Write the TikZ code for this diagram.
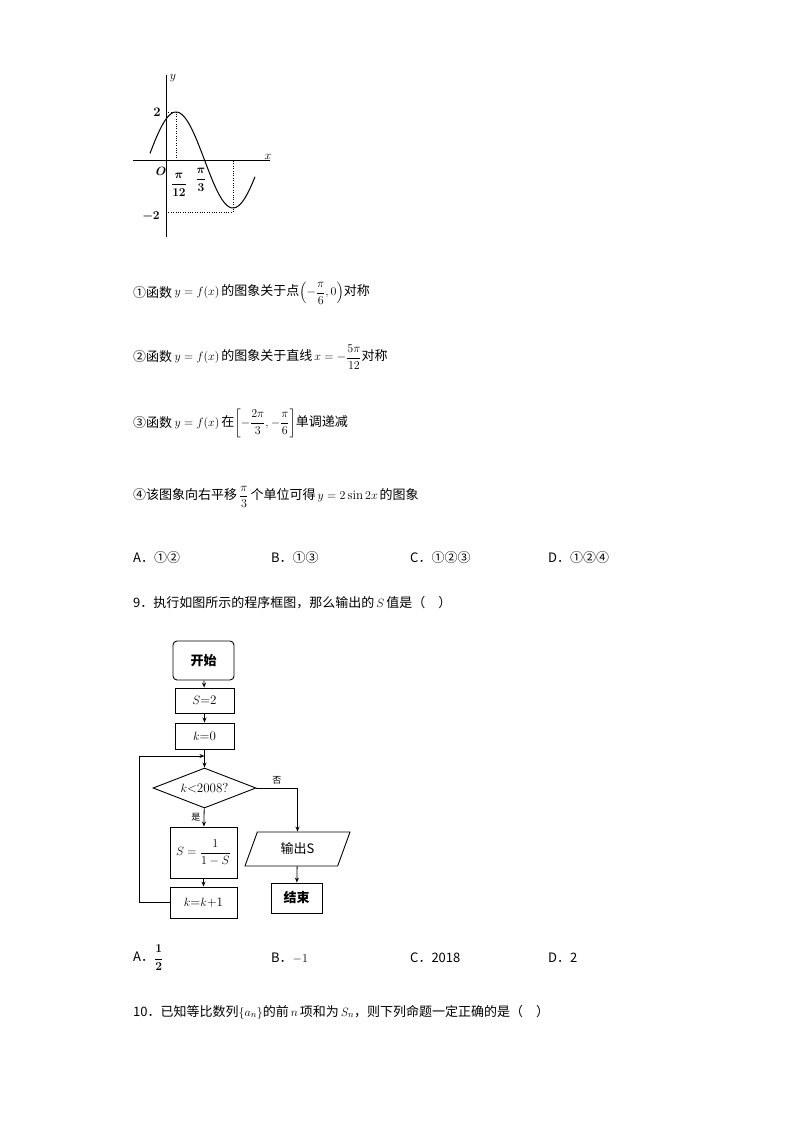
\documentclass[tikz,border=0pt]{standalone}
\usepackage{fontspec}
\usepackage{amsmath}
\newfontfamily\cjk{Noto Sans CJK SC}
\usetikzlibrary{shapes.geometric,arrows.meta}
\begin{document}
\begin{tikzpicture}[x=1pt,y=-1pt,font=\fontsize{13}{15}\selectfont,
 txt/.style={anchor=west,inner sep=0},
 fbox/.style={draw,line width=0.9pt,minimum width=#1,inner sep=0},
 arr/.style={-{Stealth[length=5pt,width=4pt]},line width=0.8pt}]
\useasboundingbox (0,0) rectangle (794,1123);
% graph
\draw[line width=0.7pt] (133,160) -- (270,160);
\draw[line width=0.7pt] (166,237) -- (166,75);
\draw[dotted] (166,112) -- (176,112) -- (176,160);
\draw[dotted] (166,212) -- (233,212) -- (233,160);
\draw[line width=1pt] plot[domain=150:255,samples=80,smooth] (\x,{160-48*cos(deg(2*pi*(\x-176)/114))});
\node at (173,78) {$y$};
\node at (268,157) {$x$};
\node at (157,112) {\bfseries 2};
\node at (161,171) {$\boldsymbol{O}$};
\node at (179,185) {$\boldsymbol{\dfrac{\pi}{12}}$};
\node at (201,180) {$\boldsymbol{\dfrac{\pi}{3}}$};
\node at (151,216) {$\boldsymbol{-2}$};
% statements
\node[txt] (s1) at (133,293) {\cjk ①函数}; \node[txt] at (s1.east) {$\,y=f(x)\,$\cjk 的图象关于点$\left(-\dfrac{\pi}{6},0\right)$\cjk 对称};
\node[txt] (s2) at (133,357) {\cjk ②函数}; \node[txt] at (s2.east) {$\,y=f(x)\,$\cjk 的图象关于直线$\,x=-\dfrac{5\pi}{12}$\cjk 对称};
\node[txt] (s3) at (133,423) {\cjk ③函数}; \node[txt] at (s3.east) {$\,y=f(x)\,$\cjk 在$\left[-\dfrac{2\pi}{3},-\dfrac{\pi}{6}\right]$\cjk 单调递减};
\node[txt] (s4) at (133,497) {\cjk ④该图象向右平移$\,\dfrac{\pi}{3}\,$个单位可得$\,y=2\sin 2x\,$的图象};
\node[txt] at (133,558) {\cjk A．①②};
\node[txt] at (271,558) {\cjk B．①③};
\node[txt] at (410,558) {\cjk C．①②③};
\node[txt] at (548,558) {\cjk D．①②④};
\node[txt] at (133,603) {\cjk 9．执行如图所示的程序框图，那么输出的$\,S\,$值是（\quad ）};
% flowchart
\node[fbox=61pt,minimum height=39pt,rounded corners=4pt] (st) at (203.5,660.5) {\cjk\bfseries 开始};
\node[fbox=59pt,minimum height=25pt] (s2b) at (204.5,700.5) {$S$=2};
\node[fbox=59pt,minimum height=26pt] (k0) at (204.5,736) {$k$=0};
\node[draw,line width=0.9pt,diamond,aspect=2.6,minimum width=103pt,minimum height=40pt,inner sep=0] (d) at (204.5,788) {$k$<2008?};
\node[fbox=67pt,minimum height=51pt] (sb) at (203.5,852.5) {$S=\dfrac{1}{1-S}$};
\node[fbox=67pt,minimum height=31pt] (kk) at (203.5,902.5) {$k$=$k$+1};
\node[draw,line width=0.9pt,trapezium,trapezium left angle=70,trapezium right angle=110,minimum width=90pt,minimum height=34pt,inner sep=2pt] (out) at (297.5,849) {\cjk 输出S};
\node[fbox=51pt,minimum height=30pt] (end) at (296.5,898) {\cjk\bfseries 结束};
\coordinate (lp) at (204.5,756);
\draw[arr] (st) -- (s2b);
\draw[arr] (s2b) -- (k0);
\draw[line width=0.8pt] (k0) -- (lp);
\draw[arr] (lp) -- (d);
\draw[arr] (d) -- (sb) node[pos=0.5,left,font=\cjk\small] {是};
\draw[arr] (sb) -- (kk);
\draw[arr] (d.east) -| (out.north) node[pos=0.25,above,font=\cjk\small] {否};
\draw[arr] (out) -- (end);
\draw[arr] (kk.west) -- (139,902.5) |- (lp);
% answers
\node[txt] at (133,958) {\cjk A．$\boldsymbol{\dfrac{1}{2}}$};
\node[txt] at (271,958) {\cjk B．$-1$};
\node[txt] at (410,958) {\cjk C．2018};
\node[txt] at (548,958) {\cjk D．2};
\node[txt] at (133,1012) {\cjk 10．已知等比数列$\left\{a_n\right\}$的前$\,n\,$项和为$\,S_n$，则下列命题一定正确的是（\quad ）};
\end{tikzpicture}
\end{document}
